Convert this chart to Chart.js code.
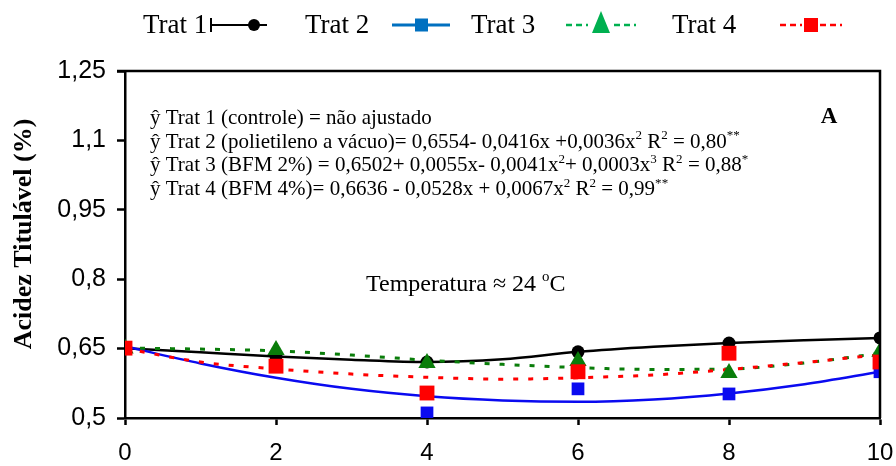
<!DOCTYPE html>
<html><head><meta charset="utf-8">
<script src="https://cdn.jsdelivr.net/npm/chart.js@4"></script>
<style>html,body{margin:0;padding:0;background:#fff;} canvas{display:block;}</style>
</head><body>
<canvas id="c" width="896" height="466"></canvas>
<script>
// ---- data ----
const xValues = [0, 2, 4, 6, 8, 10];
const trat1 = [0.651, 0.633, 0.621, 0.643, 0.662, 0.673];
const trat2 = [0.652, 0.612, 0.511, 0.563, 0.552, 0.600];
const trat3 = [0.650, 0.647, 0.619, 0.623, 0.597, 0.643];
const trat4 = [0.651, 0.612, 0.554, 0.600, 0.640, 0.621];

const curveX = [0, 1, 2, 3, 4, 5, 6, 7, 8, 9, 10];
const curve1 = [0.651, 0.642, 0.633, 0.626, 0.621, 0.627, 0.643, 0.654, 0.662, 0.668, 0.673];
const curve2 = [0.655, 0.618, 0.587, 0.563, 0.547, 0.538, 0.535, 0.540, 0.553, 0.573, 0.600];
const curve3 = [0.651, 0.649, 0.645, 0.636, 0.625, 0.616, 0.609, 0.605, 0.606, 0.619, 0.640];
const curve4 = [0.650, 0.621, 0.606, 0.595, 0.588, 0.584, 0.587, 0.593, 0.605, 0.620, 0.637];

const xTicks = [0, 2, 4, 6, 8, 10];
const xTickLabels = ['0', '2', '4', '6', '8', '10'];
const yTicks = [0.5, 0.65, 0.8, 0.95, 1.1, 1.25];
const yTickLabels = ['0,5', '0,65', '0,8', '0,95', '1,1', '1,25'];

const seriesNames = ['Trat 1', 'Trat 2', 'Trat 3', 'Trat 4'];
const yTitle = 'Acidez Titulável (%)';
const panelLabel = 'A';
const equationLines = [
  [['ŷ Trat 1 (controle) = não ajustado', 'n']],
  [['ŷ Trat 2 (polietileno a vácuo)= 0,6554- 0,0416x +0,0036x', 'n'], ['2', 's'], [' R', 'n'], ['2', 's'], [' = 0,80', 'n'], ['**', 's']],
  [['ŷ Trat 3 (BFM 2%) = 0,6502+ 0,0055x- 0,0041x', 'n'], ['2', 's'], ['+ 0,0003x', 'n'], ['3', 's'], [' R', 'n'], ['2', 's'], [' = 0,88', 'n'], ['*', 's']],
  [['ŷ Trat 4 (BFM 4%)= 0,6636 - 0,0528x + 0,0067x', 'n'], ['2', 's'], [' R', 'n'], ['2', 's'], [' = 0,99', 'n'], ['**', 's']]
];
const tempLine = [['Temperatura ≈ 24 ', 'n'], ['o', 's'], ['C', 'n']];

// ---- styles ----
const SERIF = '"Liberation Serif", "Times New Roman", serif';
const SANS = '"Liberation Sans", Arial, sans-serif';
const C1 = '#000000', C2 = '#0a0af0', C3 = '#0a7d0a', C4 = '#ff0000';

function pts(xs, ys) { return xs.map((x, i) => ({ x: x, y: ys[i] })); }

function drawRich(ctx, x, y, segs, size) {
  let cx = x;
  ctx.textBaseline = 'alphabetic';
  ctx.textAlign = 'left';
  segs.forEach(([t, k]) => {
    if (k === 's') {
      ctx.font = (size * 0.62) + 'px ' + SERIF;
      ctx.fillText(t, cx, y - size * 0.4);
    } else {
      ctx.font = size + 'px ' + SERIF;
      ctx.fillText(t, cx, y);
    }
    cx += ctx.measureText(t).width;
  });
  return cx;
}

const extras = {
  id: 'extras',
  afterDatasetsDraw(chart) {
    const ctx = chart.ctx;
    const a = chart.chartArea;
    ctx.save();
    ctx.strokeStyle = '#000';
    ctx.lineWidth = 2.5;
    ctx.beginPath();
    ctx.moveTo(a.left - 8, a.top);
    ctx.lineTo(a.right, a.top);
    ctx.lineTo(a.right, a.bottom);
    ctx.stroke();
    ctx.restore();
  },
  afterDraw(chart) {
    const ctx = chart.ctx;
    ctx.save();
    ctx.fillStyle = '#000';
    // y-axis title
    ctx.save();
    ctx.translate(24, 234);
    ctx.rotate(-Math.PI / 2);
    ctx.font = 'bold 26px ' + SERIF;
    ctx.textAlign = 'center';
    ctx.textBaseline = 'middle';
    ctx.fillText(yTitle, 0, 0);
    ctx.restore();
    // equations
    equationLines.forEach((segs, i) => drawRich(ctx, 150, 124 + i * 23.7, segs, 21));
    drawRich(ctx, 366, 291, tempLine, 24);
    ctx.font = 'bold 23px ' + SERIF;
    ctx.textAlign = 'center';
    ctx.textBaseline = 'middle';
    ctx.fillText(panelLabel, 829, 117);

    // legend
    const ly = 25;
    ctx.font = '27px ' + SERIF;
    ctx.textAlign = 'left';
    ctx.textBaseline = 'middle';
    ctx.fillStyle = '#000';
    const textX = [143, 305, 471, 672];
    seriesNames.forEach((n, i) => ctx.fillText(n, textX[i], ly + 1));
    // Trat 1 sample
    ctx.strokeStyle = '#000'; ctx.lineWidth = 2;
    ctx.beginPath(); ctx.moveTo(211, ly); ctx.lineTo(267, ly); ctx.stroke();
    ctx.beginPath(); ctx.moveTo(211, ly - 7); ctx.lineTo(211, ly + 7); ctx.stroke();
    ctx.fillStyle = '#000';
    ctx.beginPath(); ctx.arc(254, ly, 6, 0, Math.PI * 2); ctx.fill();
    // Trat 2 sample
    ctx.strokeStyle = '#0070c0'; ctx.lineWidth = 3;
    ctx.beginPath(); ctx.moveTo(392, ly); ctx.lineTo(450, ly); ctx.stroke();
    ctx.fillStyle = '#0070c0';
    ctx.fillRect(415, ly - 6.5, 13, 13);
    // Trat 3 sample
    ctx.strokeStyle = '#00b050'; ctx.lineWidth = 2.5;
    ctx.setLineDash([6, 4]);
    ctx.beginPath(); ctx.moveTo(566, ly); ctx.lineTo(588, ly); ctx.stroke();
    ctx.beginPath(); ctx.moveTo(614, ly); ctx.lineTo(636, ly); ctx.stroke();
    ctx.setLineDash([]);
    ctx.fillStyle = '#00b050';
    ctx.beginPath(); ctx.moveTo(601, ly - 14); ctx.lineTo(610, ly + 8); ctx.lineTo(592, ly + 8); ctx.closePath(); ctx.fill();
    // Trat 4 sample
    ctx.strokeStyle = '#ff0000'; ctx.lineWidth = 2.5;
    ctx.setLineDash([6, 4]);
    ctx.beginPath(); ctx.moveTo(780, ly); ctx.lineTo(802, ly); ctx.stroke();
    ctx.beginPath(); ctx.moveTo(820, ly); ctx.lineTo(842, ly); ctx.stroke();
    ctx.setLineDash([]);
    ctx.fillStyle = '#ff0000';
    ctx.fillRect(804, ly - 7, 14, 14);
    ctx.restore();
  }
};

const markerBase = { showLine: false, pointBorderWidth: 0 };
const lineBase = { showLine: true, pointRadius: 0, pointHoverRadius: 0, fill: false, cubicInterpolationMode: 'monotone' };

new Chart(document.getElementById('c'), {
  type: 'scatter',
  data: {
    datasets: [
      Object.assign({ label: seriesNames[3], data: pts(xValues, trat4), pointStyle: 'rect', pointRadius: 10.5, backgroundColor: C4, borderColor: C4 }, markerBase),
      Object.assign({ label: seriesNames[2], data: pts(xValues, trat3), pointStyle: 'triangle', pointRadius: 10, backgroundColor: C3, borderColor: C3 }, markerBase),
      Object.assign({ label: seriesNames[1], data: pts(xValues, trat2), pointStyle: 'rect', pointRadius: 9, backgroundColor: C2, borderColor: C2 }, markerBase),
      Object.assign({ label: seriesNames[0], data: pts(xValues, trat1), pointStyle: 'circle', pointRadius: 6.5, backgroundColor: C1, borderColor: C1 }, markerBase),
      Object.assign({ label: 'curve4', data: pts(curveX, curve4), borderColor: C4, borderWidth: 3, borderDash: [5, 10] }, lineBase),
      Object.assign({ label: 'curve3', data: pts(curveX, curve3), borderColor: C3, borderWidth: 3, borderDash: [5, 10] }, lineBase),
      Object.assign({ label: 'curve2', data: pts(curveX, curve2), borderColor: C2, borderWidth: 2.5 }, lineBase),
      Object.assign({ label: 'curve1', data: pts(curveX, curve1), borderColor: C1, borderWidth: 2.5 }, lineBase)
    ]
  },
  options: {
    responsive: false,
    devicePixelRatio: 1,
    animation: false,
    layout: { padding: { left: 0, top: 71, right: 16, bottom: 0 } },
    plugins: { legend: { display: false }, tooltip: { enabled: false } },
    scales: {
      x: {
        type: 'linear', min: 0, max: 10,
        afterBuildTicks: s => { s.ticks = xTicks.map(v => ({ value: v })); },
        afterFit: s => { s.height = 48; s.paddingLeft = 0; s.paddingRight = 0; },
        ticks: {
          callback: (v) => xTickLabels[xTicks.indexOf(v)],
          font: { family: SANS, size: 24 }, color: '#000', padding: 14, maxRotation: 0, autoSkip: false
        },
        grid: { drawOnChartArea: false, drawTicks: true, tickLength: 7, tickColor: '#000', tickWidth: 2.5 },
        border: { display: true, color: '#000', width: 2.5 }
      },
      y: {
        type: 'linear', min: 0.5, max: 1.25,
        afterBuildTicks: s => { s.ticks = yTicks.map(v => ({ value: v })); },
        afterFit: s => { s.width = 125; s.paddingTop = 0; s.paddingBottom = 0; },
        ticks: {
          callback: (v) => yTickLabels[yTicks.indexOf(v)],
          font: { family: SANS, size: 25 }, color: '#000', padding: 11, autoSkip: false
        },
        grid: { drawOnChartArea: false, drawTicks: true, tickLength: 8, tickColor: '#000', tickWidth: 2.5 },
        border: { display: true, color: '#000', width: 2.5 },
        title: { display: false }
      }
    }
  },
  plugins: [extras]
});
</script>
</body></html>
